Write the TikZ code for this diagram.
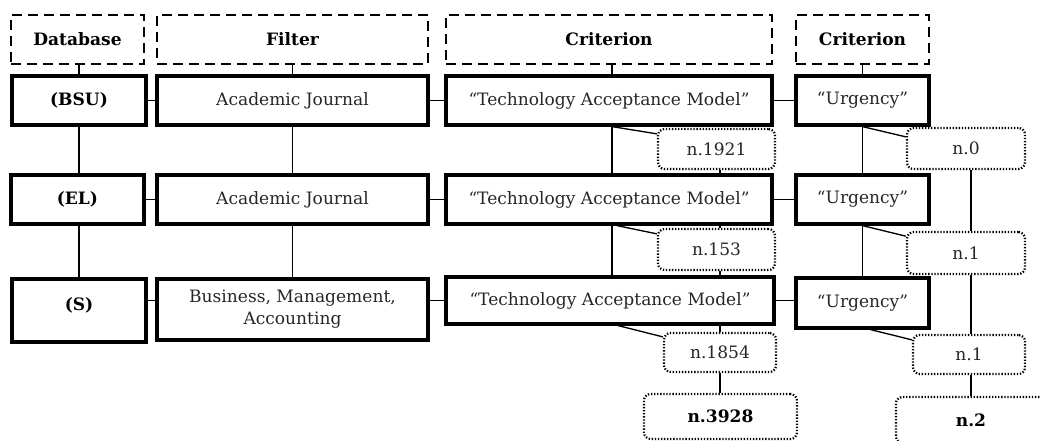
\documentclass[tikz,border=0pt]{standalone}
\usepackage{fontspec}
\setmainfont{DejaVu Serif}
\begin{document}
\begin{tikzpicture}[x=0.75pt,y=-0.75pt,
  wh/.style 2 args={minimum width={#1*0.75pt}, minimum height={#2*0.75pt}},
  txt/.style={font=\fontsize{12.8}{16.5}\selectfont, text=black!85},
  bold/.style={font=\bfseries\fontsize{12.8}{16.5}\selectfont, text=black},
  solidbox/.style={draw=black, line width=2.4pt, inner sep=0pt, align=center, txt},
  headbox/.style={draw=black, line width=2pt, dash pattern=on 7.5pt off 4.5pt, inner sep=0pt, bold},
  dotbox/.style={draw=black, line width=1.7pt, dash pattern=on 1pt off 1.3pt, rounded corners=5pt, inner sep=0pt, txt},
  link/.style={draw=black, line width=1pt}]
\useasboundingbox (0,0) rectangle (1040,441);
\clip (0,0) rectangle (1040,441);
% headers
\node[headbox, wh={133}{49}] (hdb) at (77.5,39.5) {Database};
\node[headbox, wh={271}{49}] (hfil) at (292.5,39.5) {Filter};
\node[headbox, wh={326}{49}] (hcr1) at (609,39.5) {Criterion};
\node[headbox, wh={133}{49}] (hcr2) at (862.5,39.5) {Criterion};
% row 1
\node[solidbox, bold, wh={134}{49}] (bsu) at (79,100.5) {(BSU)};
\node[solidbox, wh={271}{49}] (aj1) at (292.5,100.5) {Academic Journal};
\node[solidbox, wh={326}{49}] (tam1) at (609,100.5) {“Technology Acceptance Model”};
\node[solidbox, wh={133}{49}] (urg1) at (862.5,100.5) {“Urgency”};
% row 2
\node[solidbox, bold, wh={133}{49}] (el) at (77.5,199.5) {(EL)};
\node[solidbox, wh={271}{49}] (aj2) at (292.5,199.5) {Academic Journal};
\node[solidbox, wh={326}{49}] (tam2) at (609,199.5) {“Technology Acceptance Model”};
\node[solidbox, wh={133}{49}] (urg2) at (862.5,199.5) {“Urgency”};
% row 3
\node[solidbox, bold, wh={134}{63}] (s) at (79,310.5) {\raisebox{10pt}{(S)}};
\node[solidbox, wh={271}{61}] (bus) at (292.5,309.5) {Business, Management,\\Accounting};
\node[solidbox, wh={328}{47}] (tam3) at (610,300.5) {“Technology Acceptance Model”};
\node[solidbox, wh={133}{50}] (urg3) at (862.5,303) {“Urgency”};
% counts
\node[dotbox, wh={117}{40}] (n1921) at (716.5,149) {n.1921};
\node[dotbox, wh={117}{41}] (n153) at (716.5,249.5) {n.153};
\node[dotbox, wh={112}{39}] (n1854) at (720,352.5) {n.1854};
\node[dotbox, bold, wh={153}{45}] (n3928) at (720.5,416.5) {n.3928};
\node[dotbox, wh={118}{41}] (n0) at (966,148.5) {n.0};
\node[dotbox, wh={118}{42}] (n1a) at (966,253) {n.1};
\node[dotbox, wh={112}{39}] (n1b) at (969,354.5) {n.1};
\node[dotbox, bold, wh={150}{46}] (n2) at (971,420) {n.2};
% header links
\draw[link] (bsu.north |- hdb.south) -- (bsu.north);
\draw[link] (hfil.south) -- (aj1.north);
\draw[link] ([xshift=2.25pt]hcr1.south) -- ([xshift=2.25pt]tam1.north);
\draw[link] (hcr2.south) -- (urg1.north);
% horizontal links
\draw[link] (bsu.east) -- (aj1.west);
\draw[link] (aj1.east) -- (tam1.west);
\draw[link] (tam1.east) -- (urg1.west);
\draw[link] (el.east) -- (aj2.west);
\draw[link] (aj2.east) -- (tam2.west);
\draw[link] (tam2.east) -- (urg2.west);
\draw[link] (s.east |- tam3.center) -- (bus.west |- tam3.center);
\draw[link] (bus.east |- tam3.center) -- (tam3.west);
\draw[link] (tam3.east) -- (urg3.west |- tam3.center);
% vertical chains
\draw[link] (bsu.south) -- (bsu.south |- el.north);
\draw[link] (bsu.south |- el.south) -- (s.north);
\draw[link] (aj1.south) -- (aj2.north);
\draw[link] (aj2.south) -- (bus.north);
\draw[link] ([xshift=2.25pt]tam1.south) -- ([xshift=2.25pt]tam2.north);
\draw[link] ([xshift=2.25pt]tam2.south) -- ([xshift=2.25pt]tam2.south |- tam3.north);
\draw[link] (urg1.south) -- (urg2.north);
\draw[link] (urg2.south) -- (urg2.south |- urg3.north);
% count chains
\draw[link] (n1921.south -| n1854.center) -- (tam2.north -| n1854.center);
\draw[link] (tam2.south -| n1854.center) -- (n153.north -| n1854.center);
\draw[link] (n153.south -| n1854.center) -- (tam3.north -| n1854.center);
\draw[link] (tam3.south -| n1854.center) -- (n1854.north);
\draw[link] (n1854.south) -- (n3928.north -| n1854.south);
\draw[link] (n0.south -| n2.center) -- (n1a.north -| n2.center);
\draw[link] (n1a.south -| n2.center) -- (n1b.north -| n2.center);
\draw[link] (n1b.south -| n2.center) -- (n2.north);
% diagonals
\draw[link] ([xshift=2.25pt]tam1.south) -- ([yshift=-4.5pt]n1921.north west);
\draw[link] ([xshift=6pt]tam2.south) -- ([yshift=-4.5pt]n153.north west);
\draw[link] ([xshift=6pt]tam3.south) -- ([yshift=-3.75pt]n1854.north west);
\draw[link] (urg1.south) -- ([yshift=-7.5pt]n0.north west);
\draw[link] (urg2.south) -- ([yshift=-4pt]n1a.north west);
\draw[link] ([xshift=6pt]urg3.south) -- ([yshift=-4.5pt]n1b.north west);
\end{tikzpicture}
\end{document}
